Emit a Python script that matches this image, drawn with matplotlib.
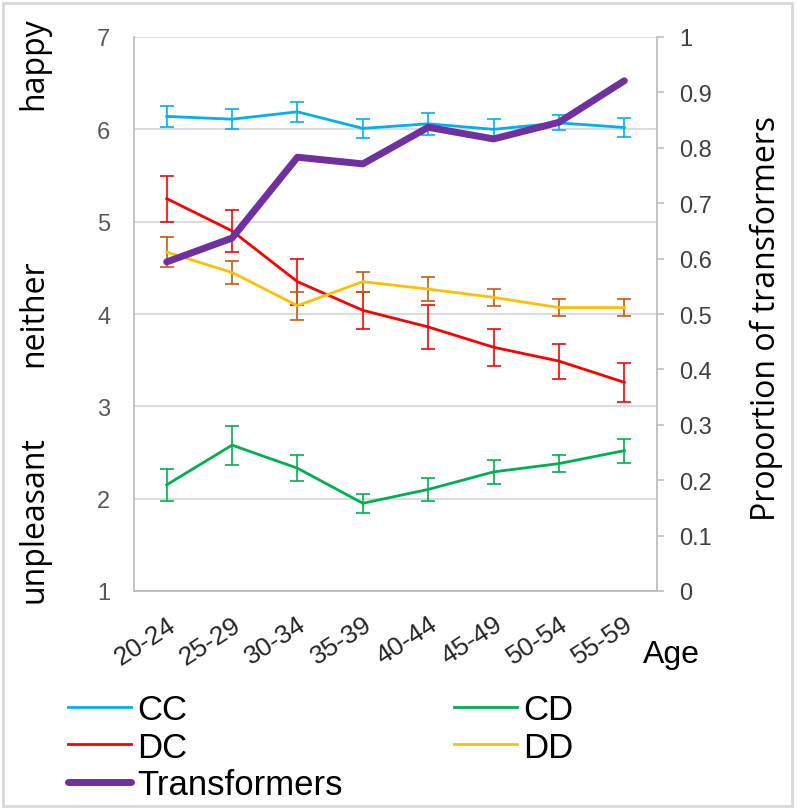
import matplotlib.pyplot as plt
from matplotlib.patches import Rectangle

ages = ['20-24', '25-29', '30-34', '35-39', '40-44', '45-49', '50-54', '55-59']
x = list(range(len(ages)))

cc = [6.14, 6.11, 6.19, 6.01, 6.06, 6.00, 6.07, 6.02]
cc_err = [0.11, 0.11, 0.11, 0.10, 0.12, 0.11, 0.08, 0.10]
dc = [5.25, 4.90, 4.35, 4.04, 3.86, 3.64, 3.49, 3.26]
dc_err = [0.25, 0.23, 0.25, 0.20, 0.24, 0.20, 0.19, 0.21]
cd = [2.15, 2.58, 2.33, 1.95, 2.10, 2.29, 2.38, 2.52]
cd_err = [0.17, 0.21, 0.14, 0.10, 0.12, 0.13, 0.09, 0.13]
dd = [4.67, 4.45, 4.09, 4.35, 4.27, 4.18, 4.07, 4.07]
dd_err = [0.16, 0.12, 0.15, 0.11, 0.13, 0.09, 0.09, 0.09]
transformers = [0.594, 0.637, 0.783, 0.771, 0.837, 0.816, 0.846, 0.921]

fig = plt.figure(figsize=(7.98, 8.12), dpi=100)
ax = fig.add_axes([134/798, 1-592/812, (657-134)/798, (592-38)/812])

ekw = dict(capsize=5, elinewidth=1.2, capthick=1.2, lw=2)
l_cc = ax.errorbar(x, cc, yerr=cc_err, color='#00B0F0', label='CC', **ekw)
l_dc = ax.errorbar(x, dc, yerr=dc_err, color='#FF0000', label='DC', **ekw)
l_cd = ax.errorbar(x, cd, yerr=cd_err, color='#00B050', label='CD', **ekw)
l_dd = ax.errorbar(x, dd, yerr=dd_err, color='#FFC000', ecolor='#C55A11', label='DD', **ekw)

ax.set_xlim(-0.5, 7.5)
ax.set_ylim(1, 7)
ax.set_yticks(range(1, 8))
ax.grid(axis='y', color='#D9D9D9', lw=1.3)
ax.set_axisbelow(True)
for s in ['top', 'right']:
    ax.spines[s].set_visible(False)
for s in ['left', 'bottom']:
    ax.spines[s].set_color('#BFBFBF')
    ax.spines[s].set_linewidth(1.3)
ax.tick_params(axis='y', length=0, pad=17, labelsize=17, labelcolor='#595959')
ax.set_xticks(x)
ax.set_xticklabels(ages, rotation=33, ha='right', rotation_mode='anchor',
                   fontsize=19, color='#262626', family='Liberation Sans')
ax.tick_params(axis='x', length=0, pad=15)
for t in ax.get_yticklabels():
    t.set_family('Liberation Sans')

ax2 = ax.twinx()
l_tr, = ax2.plot(x, transformers, color='#7030A0', lw=5, label='Transformers',
                 solid_capstyle='round', solid_joinstyle='round')
ax2.set_ylim(0, 1)
ax2.set_yticks([i/10 for i in range(11)])
ax2.set_yticklabels(['0', '0.1', '0.2', '0.3', '0.4', '0.5', '0.6', '0.7', '0.8', '0.9', '1'],
                    family='Liberation Sans')
for s in ['top', 'left', 'bottom']:
    ax2.spines[s].set_visible(False)
ax2.spines['right'].set_color('#BFBFBF')
ax2.spines['right'].set_linewidth(1.3)
ax2.tick_params(axis='y', length=5, width=1.2, color='#BFBFBF', pad=11,
                labelsize=17, labelcolor='#404040')

# label words on the left side
for word, yc in [('happy', 64), ('neither', 313), ('unpleasant', 520)]:
    fig.text(34/798, 1-yc/812, word, rotation=90, ha='center', va='center',
             fontsize=23, family='Open Sans', color='#000000')
fig.text(766/798, 1-318/812, 'Proportion of transformers', rotation=90, ha='center',
         va='center', fontsize=23, family='Open Sans')
fig.text(643/798, 1-663/812, 'Age', ha='left', va='baseline', fontsize=23,
         family='Liberation Sans')

fig.legend(handles=[l_cc[0], l_dc[0], l_tr, l_cd[0], l_dd[0]],
           labels=['CC', 'DC', 'Transformers', 'CD', 'DD'],
           ncol=2, loc='upper left', bbox_to_anchor=(68/798, 1-694/812),
           frameon=False, borderpad=0, borderaxespad=0, handlelength=1.8,
           handletextpad=0.2, columnspacing=3.2, labelspacing=0.13,
           prop={'family': 'Liberation Sans', 'size': 25})

fig.patches.append(Rectangle((3/798, 5/812), 789/798, 803/812, transform=fig.transFigure,
                             fill=False, edgecolor='#D9D9D9', lw=2))

plt.savefig('out.png', dpi=100)
